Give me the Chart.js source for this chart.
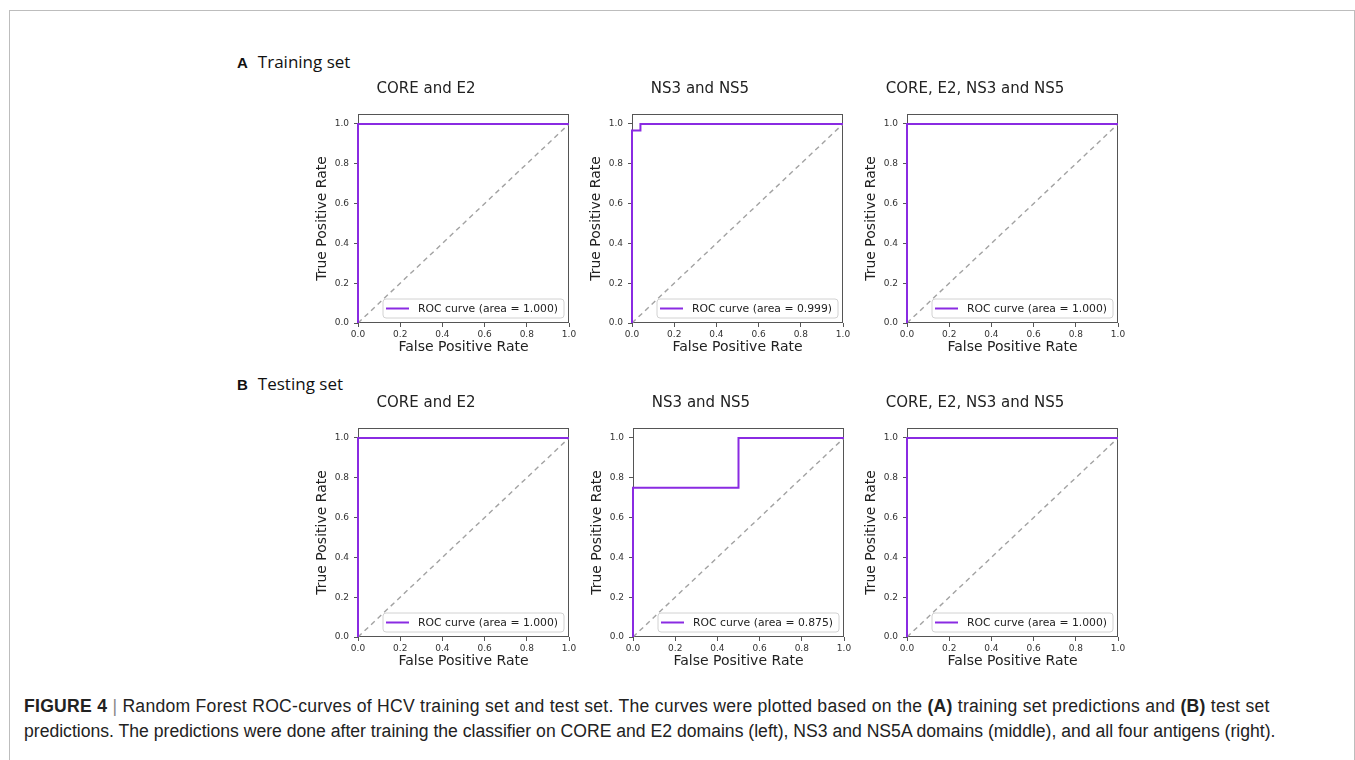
<!DOCTYPE html>
<html>
<head>
<meta charset="utf-8">
<script src="https://cdn.jsdelivr.net/npm/chart.js@4"></script>
<style>
  body { margin: 0; background: #fff; width: 1355px; height: 760px; position: relative; overflow: hidden; }
  .frame { position: absolute; left: 9px; top: 10px; width: 1344px; height: 800px; border: 1px solid #bdbdbd; }
  .panel { position: absolute; }
  .setlabel { position: absolute; left: 237px; font-family: 'Open Sans', sans-serif; font-size: 17px; color: #111; line-height: 24px; }
  .setlabel b { font-family: 'Liberation Sans', Arial, sans-serif; font-size: 15px; margin-right: 10px; }
  .caption { position: absolute; left: 24px; top: 694px; font-family: 'Liberation Sans Narrow', 'Liberation Sans', Arial, sans-serif; font-size: 17.6px; line-height: 25px; color: #222; white-space: nowrap; }
  .caption .first { letter-spacing: 0.26px; }
  .caption .bar { color: #888; }
</style>
</head>
<body>
<div class="frame"></div>

<div class="setlabel" style="top:50px"><b>A</b>Training set</div>
<div class="setlabel" style="top:372px"><b>B</b>Testing set</div>

<canvas class="panel" id="trainCore" width="361" height="304" style="left:283px; top:64px"></canvas>
<canvas class="panel" id="trainNs" width="361" height="304" style="left:557px; top:64px"></canvas>
<canvas class="panel" id="trainAll" width="361" height="304" style="left:832px; top:64px"></canvas>
<canvas class="panel" id="testCore" width="361" height="304" style="left:283px; top:378px"></canvas>
<canvas class="panel" id="testNs" width="361" height="304" style="left:558px; top:378px"></canvas>
<canvas class="panel" id="testAll" width="361" height="304" style="left:832px; top:378px"></canvas>

<div class="caption"><span class="first"><b>FIGURE 4</b> <span class="bar">|</span> Random Forest ROC-curves of HCV training set and test set. The curves were plotted based on the <b>(A)</b> training set predictions and <b>(B)</b> test set</span><br>predictions. The predictions were done after training the classifier on CORE and E2 domains (left), NS3 and NS5A domains (middle), and all four antigens (right).</div>

<script>
// data
const panelTitles = ['CORE and E2', 'NS3 and NS5', 'CORE, E2, NS3 and NS5'];
const rateTicks = [0, 0.2, 0.4, 0.6, 0.8, 1.0];
const chanceLine = [0, 1];

const aucTrain = [1.000, 0.999, 1.000];
const aucTest = [1.000, 0.875, 1.000];

// training set curves
const fprTrainCore = [0, 0, 1];
const tprTrainCore = [0, 1, 1];
const fprTrainNs = [0, 0, 0.04, 0.04, 1];
const tprTrainNs = [0, 0.967, 0.967, 1, 1];
const fprTrainAll = [0, 0, 1];
const tprTrainAll = [0, 1, 1];

// testing set curves
const fprTestCore = [0, 0, 1];
const tprTestCore = [0, 1, 1];
const fprTestNs = [0, 0, 0.5, 0.5, 1];
const tprTestNs = [0, 0.75, 0.75, 1, 1];
const fprTestAll = [0, 0, 1];
const tprTestAll = [0, 1, 1];

const rocColor = '#8a2be2';
const axisColor = '#555';

Chart.defaults.font.family = "'DejaVu Sans', sans-serif";

// box around the plot area (drawn under the curves, like the spines)
const framePlugin = {
    id: 'frame',
    beforeDatasetsDraw(chart) {
        const a = chart.chartArea;
        const ctx = chart.ctx;
        ctx.save();
        ctx.strokeStyle = axisColor;
        ctx.lineWidth = 1;
        ctx.strokeRect(a.left + 0.5, a.top + 0.5, a.width - 1, a.height - 1);
        ctx.restore();
    }
};

// legend box in the lower right corner
const rocLegendPlugin = {
    id: 'rocLegend',
    afterDatasetsDraw(chart) {
        const a = chart.chartArea;
        const ctx = chart.ctx;
        const ds = chart.data.datasets[0];
        ctx.save();
        ctx.font = "10.8px 'DejaVu Sans'";
        const tw = ctx.measureText(ds.label).width;
        const w = 3 + 23 + 9 + tw + 6;
        const h = 19;
        const x = a.right - 5 - w;
        const y = a.bottom - 5 - h;

        ctx.beginPath();
        ctx.roundRect(x, y, w, h, 3);
        ctx.fillStyle = 'rgba(255,255,255,0.92)';
        ctx.fill();
        ctx.strokeStyle = '#d2d2d2';
        ctx.lineWidth = 1;
        ctx.stroke();

        ctx.beginPath();
        ctx.moveTo(x + 3, y + h / 2);
        ctx.lineTo(x + 26, y + h / 2);
        ctx.strokeStyle = ds.borderColor;
        ctx.lineWidth = 2;
        ctx.stroke();

        ctx.fillStyle = '#222';
        ctx.textBaseline = 'middle';
        ctx.fillText(ds.label, x + 35, y + h / 2 + 0.5);
        ctx.restore();
    }
};

function axisOpts(isX) {
    return {
        type: 'linear',
        min: 0,
        max: isX ? 1 : 1.05,
        afterBuildTicks: (s) => { s.ticks = rateTicks.map(v => ({ value: v })); },
        afterFit: (s) => {
            if (isX) s.height = 45;
            else s.width = 75;
        },
        grid: { display: true, drawOnChartArea: false, drawTicks: true, tickLength: 4, color: axisColor },
        border: { display: false },
        ticks: {
            callback: v => Number(v).toFixed(1),
            color: '#333',
            font: { size: 9 },
            padding: isX ? 2 : 5,
            maxRotation: 0,
            autoSkip: false
        },
        title: {
            display: true,
            text: isX ? 'False Positive Rate' : 'True Positive Rate',
            color: '#222',
            font: { size: 14 },
            padding: isX ? { top: 0, bottom: 12 } : { top: 31, bottom: 0 }
        }
    };
}

function rocChart(id, title, fpr, tpr, auc) {
    const roc = fpr.map((x, i) => ({ x: x, y: tpr[i] }));
    const chance = chanceLine.map(v => ({ x: v, y: v }));

    return new Chart(document.getElementById(id), {
        type: 'scatter',
        data: {
            datasets: [{
                label: 'ROC curve (area = ' + auc.toFixed(3) + ')',
                data: roc,
                showLine: true,
                borderColor: rocColor,
                borderWidth: 2,
                pointRadius: 0,
                clip: false
            }, {
                label: 'chance',
                data: chance,
                showLine: true,
                borderColor: '#a2a2a2',
                borderDash: [5, 4],
                borderWidth: 1.4,
                pointRadius: 0
            }]
        },
        options: {
            responsive: false,
            animation: false,
            layout: { padding: { left: 0, right: 75, top: 0, bottom: 0 } },
            plugins: {
                legend: { display: false },
                tooltip: { enabled: false },
                title: {
                    display: true,
                    text: title,
                    color: '#222',
                    font: { size: 15, weight: 'normal' },
                    padding: { top: 16, bottom: 16 }
                }
            },
            scales: {
                x: axisOpts(true),
                y: axisOpts(false)
            }
        },
        plugins: [framePlugin, rocLegendPlugin]
    });
}

rocChart('trainCore', panelTitles[0], fprTrainCore, tprTrainCore, aucTrain[0]);
rocChart('trainNs', panelTitles[1], fprTrainNs, tprTrainNs, aucTrain[1]);
rocChart('trainAll', panelTitles[2], fprTrainAll, tprTrainAll, aucTrain[2]);
rocChart('testCore', panelTitles[0], fprTestCore, tprTestCore, aucTest[0]);
rocChart('testNs', panelTitles[1], fprTestNs, tprTestNs, aucTest[1]);
rocChart('testAll', panelTitles[2], fprTestAll, tprTestAll, aucTest[2]);
</script>
</body>
</html>
